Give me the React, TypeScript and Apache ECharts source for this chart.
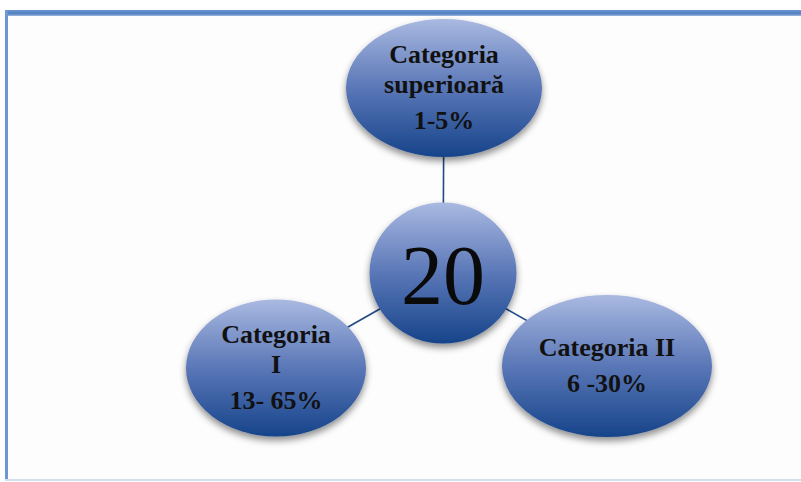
import React, { useEffect, useRef } from "react";
import * as echarts from "echarts";

// ---- data ----
const centerValue = "20";
const categoryNames = ["Categoria\nsuperioară", "Categoria\nI", "Categoria II"];
const categoryRanges = ["1-5%", "13- 65%", "6 -30%"];

// ---- layout (pixel positions of node centres and node sizes) ----
const centerLayout = { x: 443, y: 273, w: 147, h: 141 };
const categoryLayout = [
  { x: 444, y: 88, w: 196, h: 138 },
  { x: 276, y: 368, w: 180, h: 137 },
  { x: 607, y: 366, w: 210, h: 142 },
];

const ELLIPSE = "path://M0,50 A50,50 0 1,1 100,50 A50,50 0 1,1 0,50 Z";

export default function App() {
  const ref = useRef<HTMLDivElement>(null);
  useEffect(() => {
    if (!ref.current) return;
    const chart = echarts.init(ref.current, undefined, { renderer: "svg" });
    const fill = new echarts.graphic.LinearGradient(0, 0, 0, 1, [
      { offset: 0, color: "#a9b9e1" },
      { offset: 0.5, color: "#5a77b7" },
      { offset: 1, color: "#16448a" },
    ]);
    const nodeStyle = {
      color: fill,
      shadowColor: "rgba(0,0,0,0.45)",
      shadowBlur: 7,
      shadowOffsetY: 4,
    };
    const nodes: any[] = [
      {
        name: "center",
        value: [centerLayout.x, centerLayout.y],
        symbolSize: [centerLayout.w, centerLayout.h],
        itemStyle: nodeStyle,
        label: {
          show: true,
          position: "inside",
          formatter: () => "{big|" + centerValue + "}",
          rich: {
            big: {
              fontFamily: "'Liberation Serif', serif",
              fontSize: 84,
              color: "#0a0a0a",
              padding: [4, 0, 0, 0],
            },
          },
        },
      },
    ];
    categoryNames.forEach((n, i) => {
      const L = categoryLayout[i];
      const nameLines = n
        .split("\n")
        .map((s) => "{n|" + s + "}")
        .join("\n");
      nodes.push({
        name: n,
        value: [L.x, L.y],
        symbolSize: [L.w, L.h],
        itemStyle: nodeStyle,
        label: {
          show: true,
          position: "inside",
          formatter: () => nameLines + "\n{v|" + categoryRanges[i] + "}",
          rich: {
            n: {
              fontFamily: "'Liberation Serif', serif",
              fontWeight: "bold",
              fontSize: 26,
              lineHeight: 30,
              color: "#111",
              align: "center",
            },
            v: {
              fontFamily: "'Liberation Serif', serif",
              fontWeight: "bold",
              fontSize: 26,
              lineHeight: 38,
              color: "#111",
              align: "center",
              padding: [4, 0, 0, 0],
            },
          },
        },
      });
    });
    const links = categoryNames.map((_, i) => ({ source: 0, target: i + 1 }));

    chart.setOption({
      animation: false,
      backgroundColor: "#ffffff",
      grid: { left: 0, right: 0, top: 0, bottom: 0 },
      xAxis: { type: "value", min: 0, max: 801, show: false },
      yAxis: { type: "value", min: 0, max: 482, inverse: true, show: false },
      graphic: [
        { type: "rect", shape: { x: 8, y: 16, width: 793, height: 464 }, style: { fill: "#fdfdfd" } },
        {
          type: "rect",
          shape: { x: 5, y: 10, width: 796, height: 6 },
          style: {
            fill: new echarts.graphic.LinearGradient(0, 0, 0, 1, [
              { offset: 0, color: "#6a95d0" },
              { offset: 0.6, color: "#5181c2" },
              { offset: 1, color: "#9db8e0" },
            ]),
          },
        },
        { type: "rect", shape: { x: 5, y: 10, width: 3, height: 471 }, style: { fill: "#6f98d2" } },
        { type: "rect", shape: { x: 5, y: 479, width: 796, height: 2 }, style: { fill: "#d6deec" } },
      ],
      series: [
        {
          type: "graph",
          coordinateSystem: "cartesian2d",
          symbol: ELLIPSE,
          data: nodes,
          links,
          lineStyle: { color: "#1f4a86", width: 1.6, opacity: 1, curveness: 0 },
          emphasis: { disabled: true },
          z: 3,
        },
      ],
    });
    return () => chart.dispose();
  }, []);
  return (
    <div
      ref={ref}
      style={{ position: "absolute", left: 0, top: 0, width: 801, height: 482 }}
    />
  );
}
